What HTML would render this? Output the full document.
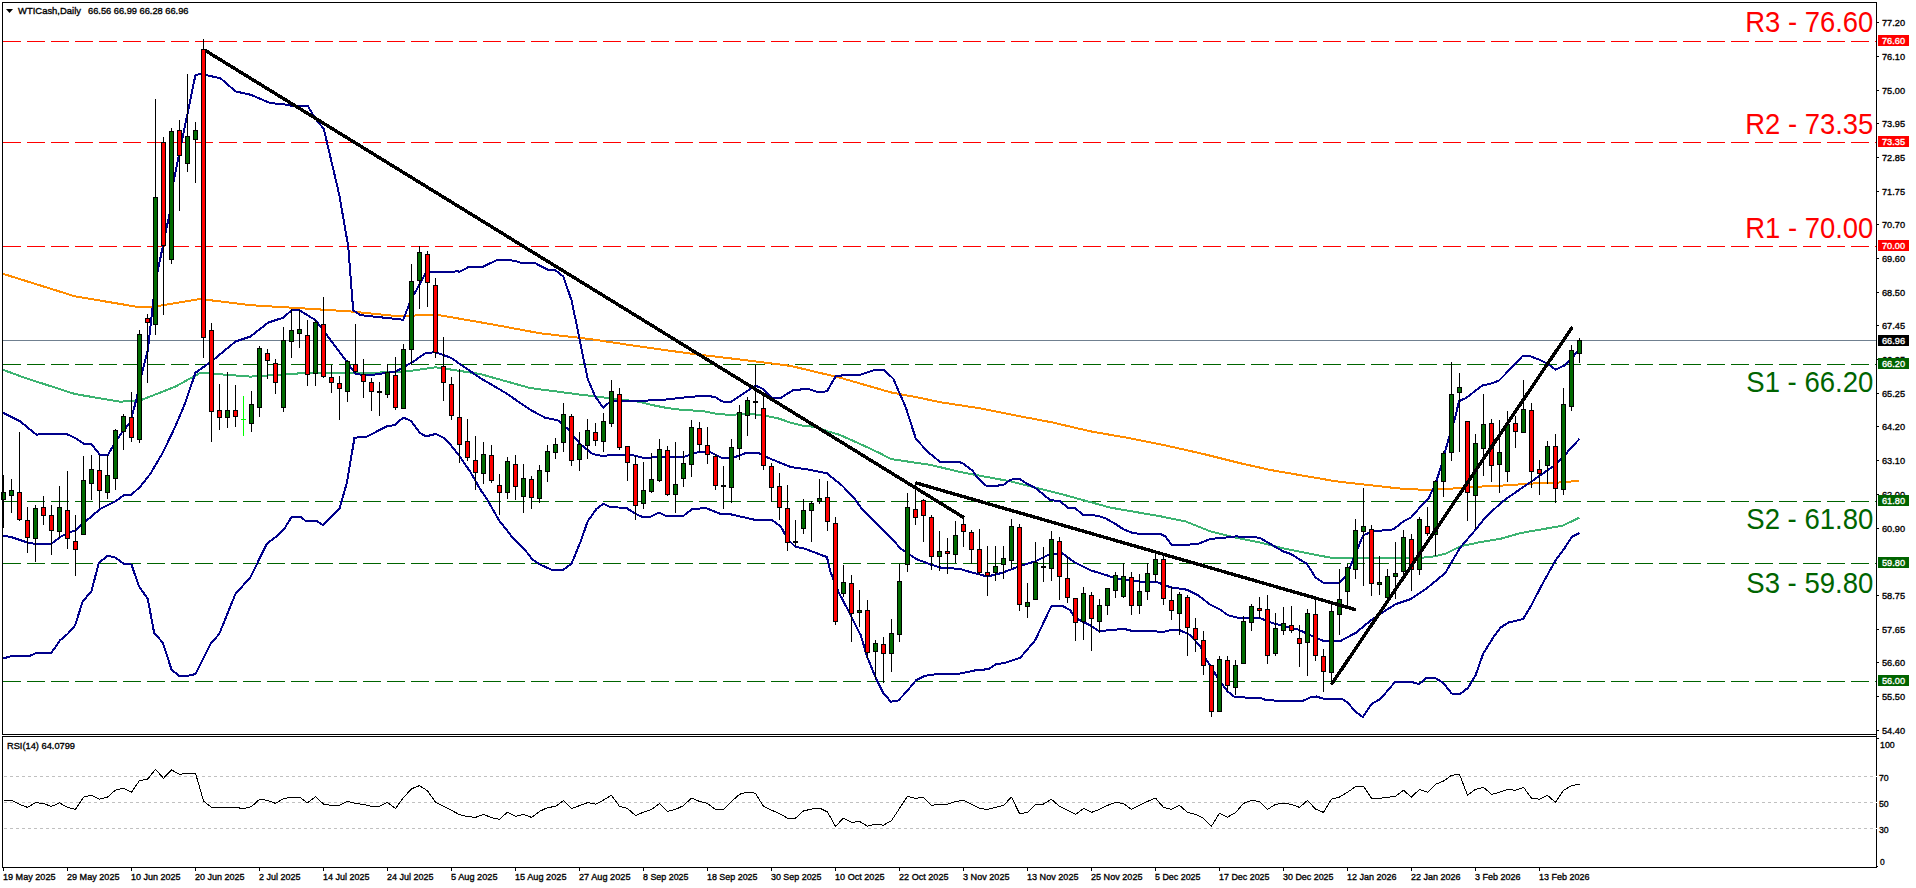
<!DOCTYPE html>
<html><head><meta charset="utf-8"><title>WTICash Daily</title>
<style>html,body{margin:0;padding:0;background:#fff;overflow:hidden}svg{display:block}.s{font-family:"Liberation Sans",sans-serif;font-size:9.8px;fill:#000;stroke:#000;stroke-width:0.35px}.w{font-family:"Liberation Sans",sans-serif;font-size:9.8px;fill:#fff;stroke:#fff;stroke-width:0.35px}.b{font-family:"Liberation Sans",sans-serif;font-size:29.5px}</style></head><body>
<svg width="1916" height="888" viewBox="0 0 1916 888">
<rect width="1916" height="888" fill="#fff"/>
<g shape-rendering="crispEdges">
<line x1="3" y1="340.5" x2="1876" y2="340.5" stroke="#708090" stroke-width="1"/>
<line x1="3" y1="41.5" x2="1876" y2="41.5" stroke="#ff0000" stroke-width="1" stroke-dasharray="18 6"/>
<line x1="3" y1="142.5" x2="1876" y2="142.5" stroke="#ff0000" stroke-width="1" stroke-dasharray="18 6"/>
<line x1="3" y1="246.5" x2="1876" y2="246.5" stroke="#ff0000" stroke-width="1" stroke-dasharray="18 6"/>
<line x1="3" y1="364.5" x2="1876" y2="364.5" stroke="#006400" stroke-width="1" stroke-dasharray="18 6"/>
<line x1="3" y1="501.5" x2="1876" y2="501.5" stroke="#006400" stroke-width="1" stroke-dasharray="18 6"/>
<line x1="3" y1="563.5" x2="1876" y2="563.5" stroke="#006400" stroke-width="1" stroke-dasharray="18 6"/>
<line x1="3" y1="681.5" x2="1876" y2="681.5" stroke="#006400" stroke-width="1" stroke-dasharray="18 6"/>
<line x1="4" y1="776.5" x2="1876" y2="776.5" stroke="#c0c0c0" stroke-width="1" stroke-dasharray="3 3"/>
<line x1="4" y1="802.5" x2="1876" y2="802.5" stroke="#c0c0c0" stroke-width="1" stroke-dasharray="3 3"/>
<line x1="4" y1="828.5" x2="1876" y2="828.5" stroke="#c0c0c0" stroke-width="1" stroke-dasharray="3 3"/>
</g>
<polyline points="3,273.8 75.2,296.4 135.3,306.5 155.3,306.5 200.4,299 250.5,305.2 300.6,308.2 350.7,311.5 400.8,316.5 425.9,314.7 440.0,315.3 490.1,324.0 540.2,333.3 590.3,339.1 640.4,346.6 690.5,353.6 740.6,359.6 790.7,365.9 840.8,377.9 890.9,392.4 920.0,397.9 940,402.2 977.6,407.9 1015.2,415.4 1052.7,422.5 1090.3,431.3 1127.9,437.9 1165.5,445.4 1203.1,453.9 1240.6,463.3 1270.6,470.0 1335.8,481.3 1385.9,487.0 1405.1,489.1 1430.1,489.9 1455.2,488.4 1480.2,486.6 1505.3,485.4 1530.3,483.6 1555.4,482.8 1579.4,480.8" fill="none" stroke="#ff8c00" stroke-width="2" stroke-linejoin="round" shape-rendering="crispEdges"/>
<polyline points="3,369.8 25,377.9 75.2,394.1 120.2,401.7 140.3,400.4 175.4,386.6 200.4,372.8 250.5,376.6 300.6,373.3 350.7,372.8 400.8,372.3 435.9,367.3 480,374 530,388 580,394.6 630,400.6 640,401.9 652.5,405.1 665.1,407.6 677.6,409.4 690.1,410.3 702.6,411.1 715.2,413.6 727.7,414.7 740.2,414.4 752.7,414.2 765.3,415.7 777.8,418.2 790.3,422.6 802.8,425.7 815.4,427 827.9,431.4 840.4,435.1 853,440.8 865.5,446.4 880,453.3 890.8,459 931,465 960,472 1010.1,481.3 1060.2,493.8 1110.3,507.6 1160.4,516.3 1185.5,521.4 1210.5,531.4 1235.6,537.6 1260.6,542.6 1285.7,548.9 1310.7,553.9 1330.7,557.7 1360.8,558.2 1410.9,558.2 1430.1,557.2 1445.1,553.9 1460.2,546.4 1480.2,542.1 1500.2,538.9 1520.3,533.1 1540.3,529.6 1562.9,525.6 1579.4,517.6" fill="none" stroke="#3cb371" stroke-width="2" stroke-linejoin="round" shape-rendering="crispEdges"/>
<polyline points="3.0,412.6 12.5,417.6 20.0,421.3 36.3,434.6 51.4,433.9 66.4,433.9 75.2,438.1 83.9,443.9 91.4,443.9 100.2,455.2 107.7,455.2 115.2,442.6 122.7,431.4 130.3,422.6 136.5,398.8 140.3,380.0 147.8,350.3 155.3,282.7 170.3,210.0 172.8,185.4 195.4,75.2 200.4,73.9 220.4,78.2 235.5,91.4 250.5,94.7 270.5,103.2 283.1,104.0 290.6,105.7 307.6,105.7 315.6,119.0 323.9,129.0 328.2,147.8 339.4,195.4 348.2,246.3 353.2,310.2 360.7,315.2 403.3,319.7 410.8,300.2 425.9,272.6 458.4,271.4 458.8,272.2 468.8,266.9 482.6,266.9 497.6,259.7 515.2,260.7 520.2,262.7 535.2,263.2 547.7,269.7 555.2,270.2 563.2,276.4 571.5,300.2 577.8,330.3 582.8,355.4 587.8,379.1 595.2,396.4 603.2,407.7 610.3,401.4 630.3,401.4 665.4,399.6 687.9,397.1 705.5,395.6 715.5,397.1 721.7,401.4 730.5,402.1 740.5,395.6 755.6,385.6 763.1,388.9 771.8,398.1 780.6,398.1 793.1,390.1 808.2,388.9 816.9,391.9 826.9,391.4 835.7,376.3 848.2,374.6 860.8,374.6 875.8,369.6 883.8,369.6 893.3,378.8 905.9,407.7 915.9,439.0 928.4,452.4 939.7,461.6 958.3,461.6 963.3,463.6 972.3,470.4 978.0,478.3 986.4,485.9 994.9,485.9 1003.3,485.0 1010.6,479.6 1019.6,478.9 1026.4,483.4 1035.4,487.9 1050.2,500.1 1060.2,501.3 1067.7,507.6 1075.2,508.1 1083.2,515.1 1097.8,515.6 1106.5,518.8 1115.3,523.9 1122.8,528.9 1131.6,532.6 1139.1,533.9 1160.4,533.9 1165.4,536.4 1171.7,545.2 1180.4,545.2 1198.0,543.9 1210.5,538.9 1225.5,537.6 1235.6,536.4 1259.3,537.6 1268.1,542.6 1283.1,551.4 1290.7,553.9 1306.9,563.9 1315.7,577.7 1323.2,582.7 1339.5,582.7 1347.0,575.2 1355.8,552.7 1363.3,535.1 1373.3,531.4 1393.4,529.4 1403.4,521.4 1410.9,517.6 1419.7,507.6 1428.4,498.8 1436.0,482.5 1441.4,465.3 1448.9,437.8 1455.2,417.7 1458.9,401.4 1466.4,397.7 1482.7,385.2 1490.2,383.9 1499.0,380.6 1515.3,363.9 1522.8,355.6 1530.3,356.3 1540.3,360.1 1547.8,363.9 1555.4,369.6 1564.1,365.6 1571.6,358.8 1579.4,348.8" fill="none" stroke="#00008b" stroke-width="2" stroke-linejoin="round" shape-rendering="crispEdges"/>
<polyline points="3.0,535.5 12.5,537.5 27.6,542.5 35.1,543.8 51.4,543.8 60.1,537.0 67.6,533.0 75.2,530.5 82.7,523.8 100.2,509.0 115.2,501.5 124.0,495.2 131.5,494.7 140.3,486.5 150.3,473.9 162.8,452.6 175.4,426.3 185.4,402.5 195.4,372.8 212.9,360.3 235.5,341.5 250.5,336.5 268.0,322.7 283.1,317.7 291.8,310.2 299.3,310.2 315.6,320.2 330.7,340.3 345.7,360.3 355.7,374.1 368.2,375.4 395.8,371.6 413.3,361.6 425.9,352.8 435.9,352.3 450.9,357.8 480.0,377.9 505.1,392.6 530.1,409.7 545.1,417.7 557.7,420.2 567.7,428.9 580.2,444.0 592.7,454.0 602.7,456.0 615.3,454.5 630.3,454.5 642.8,457.8 667.9,457.0 685.4,456.5 697.9,452.2 710.5,452.2 721.7,457.8 733.0,457.8 745.5,453.2 758.1,452.7 768.1,457.8 790.6,467.0 808.2,469.5 826.9,473.3 843.2,486.6 855.8,500.3 860.8,507.5 875.8,522.5 890.8,537.6 900.8,548.8 915.9,558.9 930.9,564.6 940.9,567.6 960.0,568.9 972.5,572.7 987.6,576.5 1002.6,572.7 1018.9,566.4 1035.2,561.4 1047.7,555.2 1061.5,552.7 1075.2,562.7 1090.3,570.2 1106.5,575.2 1115.3,578.2 1122.8,579.7 1139.1,581.5 1155.4,581.5 1170.4,587.2 1186.7,589.7 1198.0,595.3 1210.5,604.8 1220.5,609.8 1228.0,615.3 1238.1,617.8 1259.3,617.8 1273.1,623.3 1283.1,625.8 1298.2,629.6 1310.7,635.3 1323.2,640.8 1340.8,640.8 1355.8,632.8 1370.8,620.3 1385.9,610.3 1395.9,604.0 1410.9,599.0 1425.9,589.0 1445.1,573.2 1460.2,547.6 1475.2,530.1 1485.2,517.6 1502.7,501.3 1515.3,492.5 1530.3,482.3 1540.3,475.3 1555.4,464.8 1564.1,456.0 1571.6,447.3 1579.4,439.0" fill="none" stroke="#00008b" stroke-width="2" stroke-linejoin="round" shape-rendering="crispEdges"/>
<polyline points="3.0,658.5 12.5,655.8 30.1,655.8 36.3,652.8 51.4,652.8 60.1,640.2 67.6,634.0 75.2,625.2 82.7,601.4 91.4,591.4 98.9,562.6 107.7,555.8 115.2,557.6 124.0,563.8 131.5,564.6 139.0,586.4 147.8,598.9 154.1,632.7 162.8,642.7 171.6,669.8 179.1,675.8 187.9,675.8 195.4,674.1 210.4,644.0 219.2,634.0 235.5,593.9 250.5,577.1 266.8,543.8 275.6,537.0 284.3,528.8 291.8,516.5 300.6,516.5 305.6,521.0 316.9,521.0 323.1,525.3 339.4,509.0 346.9,482.7 354.5,437.6 365.7,437.1 387.0,426.3 394.5,425.1 403.3,417.6 410.8,420.8 419.6,432.6 425.9,436.4 435.9,433.9 443.4,437.6 450.9,445.1 459.7,456.4 470.9,472.7 480.0,489.0 487.5,500.0 498.8,520.0 512.6,537.6 525.1,550.1 532.6,559.6 540.1,564.6 552.6,570.1 562.7,570.1 571.4,563.9 580.2,542.6 587.7,521.3 596.5,508.8 603.2,503.8 610.3,507.0 626.5,508.0 635.3,513.8 642.8,517.0 650.3,517.0 659.1,512.5 666.6,516.3 682.9,516.3 691.7,509.3 705.5,508.0 721.7,514.3 730.5,514.3 755.6,520.0 771.8,520.0 780.6,526.3 788.1,539.6 795.6,547.1 803.1,548.1 826.9,557.1 830.7,572.6 838.2,591.4 850.7,615.2 860.8,635.3 867.0,656.6 875.8,677.9 883.3,692.9 890.8,701.7 898.3,700.4 905.9,692.4 915.9,680.4 924.6,675.9 940.9,673.6 960.0,673.6 975.0,670.4 988.8,669.1 996.3,664.1 1005.1,662.9 1020.1,657.9 1035.2,640.3 1051.4,606.0 1062.7,606.0 1070.2,610.3 1075.2,617.8 1090.3,625.3 1099.0,631.1 1115.3,629.8 1122.8,628.6 1132.8,631.1 1152.9,631.1 1162.9,632.1 1171.7,629.8 1179.2,629.8 1190.5,635.3 1200.5,646.6 1205.1,657.7 1217.6,677.7 1227.6,691.5 1235.1,697.3 1260.2,697.8 1266.4,700.3 1291.5,701.0 1302.7,701.0 1310.3,697.3 1316.5,696.5 1322.8,698.5 1341.6,698.5 1347.8,702.8 1355.4,711.6 1362.9,717.1 1371.6,704.0 1380.4,699.0 1395.4,681.5 1411.7,682.0 1419.2,684.0 1426.7,677.7 1435.5,678.2 1443.0,682.7 1451.8,693.5 1460.6,693.5 1468.1,687.8 1475.6,675.2 1483.1,653.9 1493.1,637.7 1500.6,627.6 1508.2,622.6 1523.2,618.9 1530.7,606.3 1543.2,582.5 1555.8,560.0 1564.1,548.9 1571.6,537.1 1579.4,533.1" fill="none" stroke="#00008b" stroke-width="2" stroke-linejoin="round" shape-rendering="crispEdges"/>
<g shape-rendering="crispEdges">
<rect x="3" y="475" width="1" height="53" fill="#000"/>
<rect x="1" y="492" width="5" height="8" fill="#000"/>
<rect x="2" y="493" width="3" height="6" fill="#006b00"/>
<rect x="11" y="479" width="1" height="34" fill="#000"/>
<rect x="9" y="490" width="5" height="6" fill="#000"/>
<rect x="10" y="491" width="3" height="4" fill="#006b00"/>
<rect x="19" y="432" width="1" height="89" fill="#000"/>
<rect x="17" y="492" width="5" height="28" fill="#000"/>
<rect x="18" y="493" width="3" height="26" fill="#ff0000"/>
<rect x="27" y="507" width="1" height="46" fill="#000"/>
<rect x="25" y="520" width="5" height="18" fill="#000"/>
<rect x="26" y="521" width="3" height="16" fill="#ff0000"/>
<rect x="35" y="505" width="1" height="57" fill="#000"/>
<rect x="33" y="508" width="5" height="31" fill="#000"/>
<rect x="34" y="509" width="3" height="29" fill="#006b00"/>
<rect x="43" y="496" width="1" height="29" fill="#000"/>
<rect x="41" y="507" width="5" height="9" fill="#000"/>
<rect x="42" y="508" width="3" height="7" fill="#ff0000"/>
<rect x="51" y="505" width="1" height="50" fill="#000"/>
<rect x="49" y="515" width="5" height="16" fill="#000"/>
<rect x="50" y="516" width="3" height="14" fill="#ff0000"/>
<rect x="59" y="486" width="1" height="52" fill="#000"/>
<rect x="57" y="507" width="5" height="25" fill="#000"/>
<rect x="58" y="508" width="3" height="23" fill="#006b00"/>
<rect x="67" y="471" width="1" height="78" fill="#000"/>
<rect x="65" y="510" width="5" height="29" fill="#000"/>
<rect x="66" y="511" width="3" height="27" fill="#ff0000"/>
<rect x="75" y="515" width="1" height="61" fill="#000"/>
<rect x="73" y="541" width="5" height="9" fill="#000"/>
<rect x="74" y="542" width="3" height="7" fill="#ff0000"/>
<rect x="83" y="456" width="1" height="79" fill="#000"/>
<rect x="81" y="480" width="5" height="55" fill="#000"/>
<rect x="82" y="481" width="3" height="53" fill="#006b00"/>
<rect x="91" y="455" width="1" height="45" fill="#000"/>
<rect x="89" y="469" width="5" height="15" fill="#000"/>
<rect x="90" y="470" width="3" height="13" fill="#006b00"/>
<rect x="99" y="455" width="1" height="53" fill="#000"/>
<rect x="97" y="470" width="5" height="21" fill="#000"/>
<rect x="98" y="471" width="3" height="19" fill="#ff0000"/>
<rect x="107" y="455" width="1" height="44" fill="#000"/>
<rect x="105" y="475" width="5" height="18" fill="#000"/>
<rect x="106" y="476" width="3" height="16" fill="#006b00"/>
<rect x="115" y="429" width="1" height="61" fill="#000"/>
<rect x="113" y="430" width="5" height="49" fill="#000"/>
<rect x="114" y="431" width="3" height="47" fill="#006b00"/>
<rect x="123" y="414" width="1" height="36" fill="#000"/>
<rect x="121" y="416" width="5" height="16" fill="#000"/>
<rect x="122" y="417" width="3" height="14" fill="#006b00"/>
<rect x="131" y="392" width="1" height="50" fill="#000"/>
<rect x="129" y="417" width="5" height="21" fill="#000"/>
<rect x="130" y="418" width="3" height="19" fill="#ff0000"/>
<rect x="139" y="330" width="1" height="113" fill="#000"/>
<rect x="137" y="334" width="5" height="106" fill="#000"/>
<rect x="138" y="335" width="3" height="104" fill="#006b00"/>
<rect x="147" y="314" width="1" height="69" fill="#000"/>
<rect x="145" y="318" width="5" height="5" fill="#000"/>
<rect x="146" y="319" width="3" height="3" fill="#ff0000"/>
<rect x="155" y="99" width="1" height="236" fill="#000"/>
<rect x="153" y="197" width="5" height="128" fill="#000"/>
<rect x="154" y="198" width="3" height="126" fill="#006b00"/>
<rect x="163" y="137" width="1" height="178" fill="#000"/>
<rect x="161" y="142" width="5" height="104" fill="#000"/>
<rect x="162" y="143" width="3" height="102" fill="#ff0000"/>
<rect x="171" y="128" width="1" height="136" fill="#000"/>
<rect x="169" y="131" width="5" height="129" fill="#000"/>
<rect x="170" y="132" width="3" height="127" fill="#006b00"/>
<rect x="179" y="120" width="1" height="91" fill="#000"/>
<rect x="177" y="130" width="5" height="26" fill="#000"/>
<rect x="178" y="131" width="3" height="24" fill="#ff0000"/>
<rect x="187" y="74" width="1" height="98" fill="#000"/>
<rect x="185" y="136" width="5" height="28" fill="#000"/>
<rect x="186" y="137" width="3" height="26" fill="#006b00"/>
<rect x="195" y="122" width="1" height="61" fill="#000"/>
<rect x="193" y="130" width="5" height="10" fill="#000"/>
<rect x="194" y="131" width="3" height="8" fill="#006b00"/>
<rect x="203" y="39" width="1" height="319" fill="#000"/>
<rect x="201" y="49" width="5" height="289" fill="#000"/>
<rect x="202" y="50" width="3" height="287" fill="#ff0000"/>
<rect x="211" y="323" width="1" height="119" fill="#000"/>
<rect x="209" y="330" width="5" height="82" fill="#000"/>
<rect x="210" y="331" width="3" height="80" fill="#ff0000"/>
<rect x="219" y="384" width="1" height="46" fill="#000"/>
<rect x="217" y="410" width="5" height="8" fill="#000"/>
<rect x="218" y="411" width="3" height="6" fill="#ff0000"/>
<rect x="227" y="372" width="1" height="56" fill="#000"/>
<rect x="225" y="410" width="5" height="8" fill="#000"/>
<rect x="226" y="411" width="3" height="6" fill="#006b00"/>
<rect x="235" y="385" width="1" height="42" fill="#000"/>
<rect x="233" y="410" width="5" height="7" fill="#000"/>
<rect x="234" y="411" width="3" height="5" fill="#ff0000"/>
<rect x="243" y="396" width="1" height="40" fill="#00ff00"/>
<rect x="241" y="419" width="5" height="1" fill="#00ff00"/>
<rect x="251" y="391" width="1" height="41" fill="#000"/>
<rect x="249" y="404" width="5" height="20" fill="#000"/>
<rect x="250" y="405" width="3" height="18" fill="#006b00"/>
<rect x="259" y="346" width="1" height="71" fill="#000"/>
<rect x="257" y="348" width="5" height="60" fill="#000"/>
<rect x="258" y="349" width="3" height="58" fill="#006b00"/>
<rect x="267" y="349" width="1" height="30" fill="#000"/>
<rect x="265" y="353" width="5" height="8" fill="#000"/>
<rect x="266" y="354" width="3" height="6" fill="#ff0000"/>
<rect x="275" y="359" width="1" height="35" fill="#000"/>
<rect x="273" y="363" width="5" height="20" fill="#000"/>
<rect x="274" y="364" width="3" height="18" fill="#ff0000"/>
<rect x="283" y="327" width="1" height="85" fill="#000"/>
<rect x="281" y="340" width="5" height="68" fill="#000"/>
<rect x="282" y="341" width="3" height="66" fill="#006b00"/>
<rect x="291" y="309" width="1" height="49" fill="#000"/>
<rect x="289" y="330" width="5" height="12" fill="#000"/>
<rect x="290" y="331" width="3" height="10" fill="#006b00"/>
<rect x="299" y="310" width="1" height="38" fill="#000"/>
<rect x="297" y="329" width="5" height="5" fill="#000"/>
<rect x="298" y="330" width="3" height="3" fill="#006b00"/>
<rect x="307" y="320" width="1" height="66" fill="#000"/>
<rect x="305" y="335" width="5" height="40" fill="#000"/>
<rect x="306" y="336" width="3" height="38" fill="#ff0000"/>
<rect x="315" y="320" width="1" height="66" fill="#000"/>
<rect x="313" y="322" width="5" height="52" fill="#000"/>
<rect x="314" y="323" width="3" height="50" fill="#006b00"/>
<rect x="323" y="297" width="1" height="81" fill="#000"/>
<rect x="321" y="324" width="5" height="53" fill="#000"/>
<rect x="322" y="325" width="3" height="51" fill="#ff0000"/>
<rect x="331" y="365" width="1" height="28" fill="#000"/>
<rect x="329" y="377" width="5" height="6" fill="#000"/>
<rect x="330" y="378" width="3" height="4" fill="#ff0000"/>
<rect x="339" y="376" width="1" height="44" fill="#000"/>
<rect x="337" y="383" width="5" height="6" fill="#000"/>
<rect x="338" y="384" width="3" height="4" fill="#ff0000"/>
<rect x="347" y="360" width="1" height="42" fill="#000"/>
<rect x="345" y="361" width="5" height="31" fill="#000"/>
<rect x="346" y="362" width="3" height="29" fill="#006b00"/>
<rect x="355" y="324" width="1" height="49" fill="#000"/>
<rect x="353" y="364" width="5" height="8" fill="#000"/>
<rect x="354" y="365" width="3" height="6" fill="#ff0000"/>
<rect x="363" y="359" width="1" height="39" fill="#000"/>
<rect x="361" y="374" width="5" height="8" fill="#000"/>
<rect x="362" y="375" width="3" height="6" fill="#ff0000"/>
<rect x="371" y="378" width="1" height="33" fill="#000"/>
<rect x="369" y="382" width="5" height="10" fill="#000"/>
<rect x="370" y="383" width="3" height="8" fill="#ff0000"/>
<rect x="379" y="382" width="1" height="34" fill="#000"/>
<rect x="377" y="391" width="5" height="2" fill="#000"/>
<rect x="387" y="364" width="1" height="34" fill="#000"/>
<rect x="385" y="372" width="5" height="23" fill="#000"/>
<rect x="386" y="373" width="3" height="21" fill="#006b00"/>
<rect x="395" y="357" width="1" height="53" fill="#000"/>
<rect x="393" y="375" width="5" height="33" fill="#000"/>
<rect x="394" y="376" width="3" height="31" fill="#ff0000"/>
<rect x="403" y="344" width="1" height="65" fill="#000"/>
<rect x="401" y="349" width="5" height="60" fill="#000"/>
<rect x="402" y="350" width="3" height="58" fill="#006b00"/>
<rect x="411" y="264" width="1" height="101" fill="#000"/>
<rect x="409" y="281" width="5" height="69" fill="#000"/>
<rect x="410" y="282" width="3" height="67" fill="#006b00"/>
<rect x="419" y="246" width="1" height="63" fill="#000"/>
<rect x="417" y="252" width="5" height="29" fill="#000"/>
<rect x="418" y="253" width="3" height="27" fill="#006b00"/>
<rect x="427" y="251" width="1" height="56" fill="#000"/>
<rect x="425" y="254" width="5" height="29" fill="#000"/>
<rect x="426" y="255" width="3" height="27" fill="#ff0000"/>
<rect x="435" y="278" width="1" height="80" fill="#000"/>
<rect x="433" y="285" width="5" height="68" fill="#000"/>
<rect x="434" y="286" width="3" height="66" fill="#ff0000"/>
<rect x="443" y="337" width="1" height="64" fill="#000"/>
<rect x="441" y="366" width="5" height="17" fill="#000"/>
<rect x="442" y="367" width="3" height="15" fill="#ff0000"/>
<rect x="451" y="377" width="1" height="43" fill="#000"/>
<rect x="449" y="384" width="5" height="32" fill="#000"/>
<rect x="450" y="385" width="3" height="30" fill="#ff0000"/>
<rect x="459" y="369" width="1" height="94" fill="#000"/>
<rect x="457" y="417" width="5" height="28" fill="#000"/>
<rect x="458" y="418" width="3" height="26" fill="#ff0000"/>
<rect x="467" y="419" width="1" height="42" fill="#000"/>
<rect x="465" y="441" width="5" height="17" fill="#000"/>
<rect x="466" y="442" width="3" height="15" fill="#ff0000"/>
<rect x="475" y="436" width="1" height="54" fill="#000"/>
<rect x="473" y="460" width="5" height="13" fill="#000"/>
<rect x="474" y="461" width="3" height="11" fill="#ff0000"/>
<rect x="483" y="442" width="1" height="42" fill="#000"/>
<rect x="481" y="454" width="5" height="20" fill="#000"/>
<rect x="482" y="455" width="3" height="18" fill="#006b00"/>
<rect x="491" y="445" width="1" height="38" fill="#000"/>
<rect x="489" y="455" width="5" height="26" fill="#000"/>
<rect x="490" y="456" width="3" height="24" fill="#ff0000"/>
<rect x="499" y="474" width="1" height="41" fill="#000"/>
<rect x="497" y="485" width="5" height="8" fill="#000"/>
<rect x="498" y="486" width="3" height="6" fill="#ff0000"/>
<rect x="507" y="457" width="1" height="42" fill="#000"/>
<rect x="505" y="461" width="5" height="32" fill="#000"/>
<rect x="506" y="462" width="3" height="30" fill="#006b00"/>
<rect x="515" y="455" width="1" height="45" fill="#000"/>
<rect x="513" y="464" width="5" height="23" fill="#000"/>
<rect x="514" y="465" width="3" height="21" fill="#ff0000"/>
<rect x="523" y="464" width="1" height="49" fill="#000"/>
<rect x="521" y="478" width="5" height="19" fill="#000"/>
<rect x="522" y="479" width="3" height="17" fill="#006b00"/>
<rect x="531" y="476" width="1" height="33" fill="#000"/>
<rect x="529" y="479" width="5" height="19" fill="#000"/>
<rect x="530" y="480" width="3" height="17" fill="#ff0000"/>
<rect x="539" y="465" width="1" height="38" fill="#000"/>
<rect x="537" y="470" width="5" height="29" fill="#000"/>
<rect x="538" y="471" width="3" height="27" fill="#006b00"/>
<rect x="547" y="445" width="1" height="37" fill="#000"/>
<rect x="545" y="451" width="5" height="21" fill="#000"/>
<rect x="546" y="452" width="3" height="19" fill="#006b00"/>
<rect x="555" y="438" width="1" height="21" fill="#000"/>
<rect x="553" y="444" width="5" height="9" fill="#000"/>
<rect x="554" y="445" width="3" height="7" fill="#006b00"/>
<rect x="563" y="403" width="1" height="49" fill="#000"/>
<rect x="561" y="414" width="5" height="29" fill="#000"/>
<rect x="562" y="415" width="3" height="27" fill="#006b00"/>
<rect x="571" y="414" width="1" height="52" fill="#000"/>
<rect x="569" y="416" width="5" height="45" fill="#000"/>
<rect x="570" y="417" width="3" height="43" fill="#ff0000"/>
<rect x="579" y="432" width="1" height="39" fill="#000"/>
<rect x="577" y="444" width="5" height="16" fill="#000"/>
<rect x="578" y="445" width="3" height="14" fill="#006b00"/>
<rect x="587" y="419" width="1" height="40" fill="#000"/>
<rect x="585" y="430" width="5" height="16" fill="#000"/>
<rect x="586" y="431" width="3" height="14" fill="#006b00"/>
<rect x="595" y="423" width="1" height="23" fill="#000"/>
<rect x="593" y="432" width="5" height="9" fill="#000"/>
<rect x="594" y="433" width="3" height="7" fill="#ff0000"/>
<rect x="603" y="413" width="1" height="39" fill="#000"/>
<rect x="601" y="421" width="5" height="21" fill="#000"/>
<rect x="602" y="422" width="3" height="19" fill="#006b00"/>
<rect x="611" y="380" width="1" height="47" fill="#000"/>
<rect x="609" y="391" width="5" height="33" fill="#000"/>
<rect x="610" y="392" width="3" height="31" fill="#006b00"/>
<rect x="619" y="388" width="1" height="62" fill="#000"/>
<rect x="617" y="394" width="5" height="54" fill="#000"/>
<rect x="618" y="395" width="3" height="52" fill="#ff0000"/>
<rect x="627" y="446" width="1" height="35" fill="#000"/>
<rect x="625" y="446" width="5" height="17" fill="#000"/>
<rect x="626" y="447" width="3" height="15" fill="#ff0000"/>
<rect x="635" y="456" width="1" height="64" fill="#000"/>
<rect x="633" y="464" width="5" height="42" fill="#000"/>
<rect x="634" y="465" width="3" height="40" fill="#ff0000"/>
<rect x="643" y="462" width="1" height="47" fill="#000"/>
<rect x="641" y="490" width="5" height="14" fill="#000"/>
<rect x="642" y="491" width="3" height="12" fill="#006b00"/>
<rect x="651" y="453" width="1" height="40" fill="#000"/>
<rect x="649" y="479" width="5" height="13" fill="#000"/>
<rect x="650" y="480" width="3" height="11" fill="#006b00"/>
<rect x="659" y="439" width="1" height="43" fill="#000"/>
<rect x="657" y="449" width="5" height="32" fill="#000"/>
<rect x="658" y="450" width="3" height="30" fill="#006b00"/>
<rect x="667" y="446" width="1" height="50" fill="#000"/>
<rect x="665" y="450" width="5" height="45" fill="#000"/>
<rect x="666" y="451" width="3" height="43" fill="#ff0000"/>
<rect x="675" y="442" width="1" height="71" fill="#000"/>
<rect x="673" y="484" width="5" height="11" fill="#000"/>
<rect x="674" y="485" width="3" height="9" fill="#006b00"/>
<rect x="683" y="451" width="1" height="36" fill="#000"/>
<rect x="681" y="463" width="5" height="16" fill="#000"/>
<rect x="682" y="464" width="3" height="14" fill="#006b00"/>
<rect x="691" y="420" width="1" height="57" fill="#000"/>
<rect x="689" y="427" width="5" height="38" fill="#000"/>
<rect x="690" y="428" width="3" height="36" fill="#006b00"/>
<rect x="699" y="422" width="1" height="30" fill="#000"/>
<rect x="697" y="428" width="5" height="17" fill="#000"/>
<rect x="698" y="429" width="3" height="15" fill="#ff0000"/>
<rect x="707" y="427" width="1" height="37" fill="#000"/>
<rect x="705" y="445" width="5" height="10" fill="#000"/>
<rect x="706" y="446" width="3" height="8" fill="#ff0000"/>
<rect x="715" y="454" width="1" height="36" fill="#000"/>
<rect x="713" y="456" width="5" height="30" fill="#000"/>
<rect x="714" y="457" width="3" height="28" fill="#ff0000"/>
<rect x="723" y="466" width="1" height="43" fill="#000"/>
<rect x="721" y="485" width="5" height="2" fill="#000"/>
<rect x="731" y="439" width="1" height="64" fill="#000"/>
<rect x="729" y="447" width="5" height="41" fill="#000"/>
<rect x="730" y="448" width="3" height="39" fill="#006b00"/>
<rect x="739" y="405" width="1" height="55" fill="#000"/>
<rect x="737" y="412" width="5" height="37" fill="#000"/>
<rect x="738" y="413" width="3" height="35" fill="#006b00"/>
<rect x="747" y="397" width="1" height="39" fill="#000"/>
<rect x="745" y="400" width="5" height="16" fill="#000"/>
<rect x="746" y="401" width="3" height="14" fill="#006b00"/>
<rect x="755" y="365" width="1" height="54" fill="#000"/>
<rect x="753" y="401" width="5" height="2" fill="#000"/>
<rect x="763" y="395" width="1" height="75" fill="#000"/>
<rect x="761" y="408" width="5" height="58" fill="#000"/>
<rect x="762" y="409" width="3" height="56" fill="#ff0000"/>
<rect x="771" y="463" width="1" height="39" fill="#000"/>
<rect x="769" y="466" width="5" height="22" fill="#000"/>
<rect x="770" y="467" width="3" height="20" fill="#ff0000"/>
<rect x="779" y="473" width="1" height="47" fill="#000"/>
<rect x="777" y="486" width="5" height="22" fill="#000"/>
<rect x="778" y="487" width="3" height="20" fill="#ff0000"/>
<rect x="787" y="485" width="1" height="66" fill="#000"/>
<rect x="785" y="508" width="5" height="35" fill="#000"/>
<rect x="786" y="509" width="3" height="33" fill="#ff0000"/>
<rect x="795" y="520" width="1" height="26" fill="#000"/>
<rect x="793" y="541" width="5" height="2" fill="#000"/>
<rect x="803" y="499" width="1" height="35" fill="#000"/>
<rect x="801" y="510" width="5" height="19" fill="#000"/>
<rect x="802" y="511" width="3" height="17" fill="#006b00"/>
<rect x="811" y="501" width="1" height="41" fill="#000"/>
<rect x="809" y="503" width="5" height="8" fill="#000"/>
<rect x="810" y="504" width="3" height="6" fill="#006b00"/>
<rect x="819" y="479" width="1" height="25" fill="#000"/>
<rect x="817" y="498" width="5" height="4" fill="#000"/>
<rect x="818" y="499" width="3" height="2" fill="#006b00"/>
<rect x="827" y="481" width="1" height="50" fill="#000"/>
<rect x="825" y="497" width="5" height="25" fill="#000"/>
<rect x="826" y="498" width="3" height="23" fill="#ff0000"/>
<rect x="835" y="517" width="1" height="108" fill="#000"/>
<rect x="833" y="523" width="5" height="99" fill="#000"/>
<rect x="834" y="524" width="3" height="97" fill="#ff0000"/>
<rect x="843" y="565" width="1" height="32" fill="#000"/>
<rect x="841" y="582" width="5" height="12" fill="#000"/>
<rect x="842" y="583" width="3" height="10" fill="#006b00"/>
<rect x="851" y="575" width="1" height="67" fill="#000"/>
<rect x="849" y="583" width="5" height="31" fill="#000"/>
<rect x="850" y="584" width="3" height="29" fill="#ff0000"/>
<rect x="859" y="590" width="1" height="37" fill="#000"/>
<rect x="857" y="610" width="5" height="3" fill="#000"/>
<rect x="858" y="611" width="3" height="1" fill="#006b00"/>
<rect x="867" y="600" width="1" height="59" fill="#000"/>
<rect x="865" y="610" width="5" height="43" fill="#000"/>
<rect x="866" y="611" width="3" height="41" fill="#ff0000"/>
<rect x="875" y="640" width="1" height="39" fill="#000"/>
<rect x="873" y="643" width="5" height="9" fill="#000"/>
<rect x="874" y="644" width="3" height="7" fill="#006b00"/>
<rect x="883" y="637" width="1" height="46" fill="#000"/>
<rect x="881" y="644" width="5" height="10" fill="#000"/>
<rect x="882" y="645" width="3" height="8" fill="#ff0000"/>
<rect x="891" y="619" width="1" height="53" fill="#000"/>
<rect x="889" y="633" width="5" height="21" fill="#000"/>
<rect x="890" y="634" width="3" height="19" fill="#006b00"/>
<rect x="899" y="564" width="1" height="78" fill="#000"/>
<rect x="897" y="581" width="5" height="54" fill="#000"/>
<rect x="898" y="582" width="3" height="52" fill="#006b00"/>
<rect x="907" y="493" width="1" height="79" fill="#000"/>
<rect x="905" y="507" width="5" height="58" fill="#000"/>
<rect x="906" y="508" width="3" height="56" fill="#006b00"/>
<rect x="915" y="482" width="1" height="43" fill="#000"/>
<rect x="913" y="509" width="5" height="9" fill="#000"/>
<rect x="914" y="510" width="3" height="7" fill="#ff0000"/>
<rect x="923" y="499" width="1" height="43" fill="#000"/>
<rect x="921" y="500" width="5" height="16" fill="#000"/>
<rect x="922" y="501" width="3" height="14" fill="#ff0000"/>
<rect x="931" y="515" width="1" height="55" fill="#000"/>
<rect x="929" y="517" width="5" height="40" fill="#000"/>
<rect x="930" y="518" width="3" height="38" fill="#ff0000"/>
<rect x="939" y="531" width="1" height="40" fill="#000"/>
<rect x="937" y="551" width="5" height="6" fill="#000"/>
<rect x="938" y="552" width="3" height="4" fill="#006b00"/>
<rect x="947" y="538" width="1" height="36" fill="#000"/>
<rect x="945" y="551" width="5" height="3" fill="#000"/>
<rect x="946" y="552" width="3" height="1" fill="#ff0000"/>
<rect x="955" y="521" width="1" height="42" fill="#000"/>
<rect x="953" y="535" width="5" height="20" fill="#000"/>
<rect x="954" y="536" width="3" height="18" fill="#006b00"/>
<rect x="963" y="517" width="1" height="30" fill="#000"/>
<rect x="961" y="524" width="5" height="8" fill="#000"/>
<rect x="962" y="525" width="3" height="6" fill="#ff0000"/>
<rect x="971" y="530" width="1" height="34" fill="#000"/>
<rect x="969" y="532" width="5" height="18" fill="#000"/>
<rect x="970" y="533" width="3" height="16" fill="#ff0000"/>
<rect x="979" y="529" width="1" height="46" fill="#000"/>
<rect x="977" y="549" width="5" height="24" fill="#000"/>
<rect x="978" y="550" width="3" height="22" fill="#ff0000"/>
<rect x="987" y="546" width="1" height="50" fill="#000"/>
<rect x="985" y="572" width="5" height="4" fill="#000"/>
<rect x="986" y="573" width="3" height="2" fill="#ff0000"/>
<rect x="995" y="546" width="1" height="35" fill="#000"/>
<rect x="993" y="566" width="5" height="7" fill="#000"/>
<rect x="994" y="567" width="3" height="5" fill="#006b00"/>
<rect x="1003" y="546" width="1" height="33" fill="#000"/>
<rect x="1001" y="558" width="5" height="7" fill="#000"/>
<rect x="1002" y="559" width="3" height="5" fill="#006b00"/>
<rect x="1011" y="519" width="1" height="50" fill="#000"/>
<rect x="1009" y="526" width="5" height="35" fill="#000"/>
<rect x="1010" y="527" width="3" height="33" fill="#006b00"/>
<rect x="1019" y="524" width="1" height="87" fill="#000"/>
<rect x="1017" y="527" width="5" height="78" fill="#000"/>
<rect x="1018" y="528" width="3" height="76" fill="#ff0000"/>
<rect x="1027" y="583" width="1" height="35" fill="#000"/>
<rect x="1025" y="602" width="5" height="5" fill="#000"/>
<rect x="1026" y="603" width="3" height="3" fill="#006b00"/>
<rect x="1035" y="542" width="1" height="58" fill="#000"/>
<rect x="1033" y="562" width="5" height="38" fill="#000"/>
<rect x="1034" y="563" width="3" height="36" fill="#006b00"/>
<rect x="1043" y="547" width="1" height="35" fill="#000"/>
<rect x="1041" y="566" width="5" height="2" fill="#000"/>
<rect x="1051" y="531" width="1" height="50" fill="#000"/>
<rect x="1049" y="539" width="5" height="30" fill="#000"/>
<rect x="1050" y="540" width="3" height="28" fill="#006b00"/>
<rect x="1059" y="537" width="1" height="63" fill="#000"/>
<rect x="1057" y="541" width="5" height="36" fill="#000"/>
<rect x="1058" y="542" width="3" height="34" fill="#ff0000"/>
<rect x="1067" y="556" width="1" height="47" fill="#000"/>
<rect x="1065" y="578" width="5" height="20" fill="#000"/>
<rect x="1066" y="579" width="3" height="18" fill="#ff0000"/>
<rect x="1075" y="598" width="1" height="43" fill="#000"/>
<rect x="1073" y="598" width="5" height="25" fill="#000"/>
<rect x="1074" y="599" width="3" height="23" fill="#ff0000"/>
<rect x="1083" y="587" width="1" height="53" fill="#000"/>
<rect x="1081" y="593" width="5" height="29" fill="#000"/>
<rect x="1082" y="594" width="3" height="27" fill="#006b00"/>
<rect x="1091" y="592" width="1" height="59" fill="#000"/>
<rect x="1089" y="595" width="5" height="24" fill="#000"/>
<rect x="1090" y="596" width="3" height="22" fill="#ff0000"/>
<rect x="1099" y="599" width="1" height="34" fill="#000"/>
<rect x="1097" y="605" width="5" height="17" fill="#000"/>
<rect x="1098" y="606" width="3" height="15" fill="#006b00"/>
<rect x="1107" y="588" width="1" height="27" fill="#000"/>
<rect x="1105" y="588" width="5" height="18" fill="#000"/>
<rect x="1106" y="589" width="3" height="16" fill="#006b00"/>
<rect x="1115" y="572" width="1" height="26" fill="#000"/>
<rect x="1113" y="575" width="5" height="16" fill="#000"/>
<rect x="1114" y="576" width="3" height="14" fill="#006b00"/>
<rect x="1123" y="563" width="1" height="35" fill="#000"/>
<rect x="1121" y="576" width="5" height="21" fill="#000"/>
<rect x="1122" y="577" width="3" height="19" fill="#006b00"/>
<rect x="1131" y="572" width="1" height="43" fill="#000"/>
<rect x="1129" y="577" width="5" height="29" fill="#000"/>
<rect x="1130" y="578" width="3" height="27" fill="#ff0000"/>
<rect x="1139" y="574" width="1" height="40" fill="#000"/>
<rect x="1137" y="591" width="5" height="15" fill="#000"/>
<rect x="1138" y="592" width="3" height="13" fill="#006b00"/>
<rect x="1147" y="563" width="1" height="37" fill="#000"/>
<rect x="1145" y="573" width="5" height="19" fill="#000"/>
<rect x="1146" y="574" width="3" height="17" fill="#006b00"/>
<rect x="1155" y="552" width="1" height="30" fill="#000"/>
<rect x="1153" y="559" width="5" height="16" fill="#000"/>
<rect x="1154" y="560" width="3" height="14" fill="#006b00"/>
<rect x="1163" y="555" width="1" height="50" fill="#000"/>
<rect x="1161" y="559" width="5" height="40" fill="#000"/>
<rect x="1162" y="560" width="3" height="38" fill="#ff0000"/>
<rect x="1171" y="587" width="1" height="33" fill="#000"/>
<rect x="1169" y="600" width="5" height="11" fill="#000"/>
<rect x="1170" y="601" width="3" height="9" fill="#ff0000"/>
<rect x="1179" y="592" width="1" height="43" fill="#000"/>
<rect x="1177" y="594" width="5" height="20" fill="#000"/>
<rect x="1178" y="595" width="3" height="18" fill="#006b00"/>
<rect x="1187" y="595" width="1" height="61" fill="#000"/>
<rect x="1185" y="597" width="5" height="31" fill="#000"/>
<rect x="1186" y="598" width="3" height="29" fill="#ff0000"/>
<rect x="1195" y="618" width="1" height="34" fill="#000"/>
<rect x="1193" y="628" width="5" height="12" fill="#000"/>
<rect x="1194" y="629" width="3" height="10" fill="#ff0000"/>
<rect x="1203" y="631" width="1" height="44" fill="#000"/>
<rect x="1201" y="640" width="5" height="26" fill="#000"/>
<rect x="1202" y="641" width="3" height="24" fill="#ff0000"/>
<rect x="1211" y="665" width="1" height="52" fill="#000"/>
<rect x="1209" y="665" width="5" height="47" fill="#000"/>
<rect x="1210" y="666" width="3" height="45" fill="#ff0000"/>
<rect x="1219" y="656" width="1" height="56" fill="#000"/>
<rect x="1217" y="659" width="5" height="53" fill="#000"/>
<rect x="1218" y="660" width="3" height="51" fill="#006b00"/>
<rect x="1227" y="656" width="1" height="35" fill="#000"/>
<rect x="1225" y="660" width="5" height="26" fill="#000"/>
<rect x="1226" y="661" width="3" height="24" fill="#ff0000"/>
<rect x="1235" y="660" width="1" height="35" fill="#000"/>
<rect x="1233" y="665" width="5" height="23" fill="#000"/>
<rect x="1234" y="666" width="3" height="21" fill="#006b00"/>
<rect x="1243" y="616" width="1" height="48" fill="#000"/>
<rect x="1241" y="621" width="5" height="43" fill="#000"/>
<rect x="1242" y="622" width="3" height="41" fill="#006b00"/>
<rect x="1251" y="604" width="1" height="27" fill="#000"/>
<rect x="1249" y="606" width="5" height="17" fill="#000"/>
<rect x="1250" y="607" width="3" height="15" fill="#006b00"/>
<rect x="1259" y="597" width="1" height="21" fill="#000"/>
<rect x="1257" y="608" width="5" height="3" fill="#000"/>
<rect x="1258" y="609" width="3" height="1" fill="#ff0000"/>
<rect x="1267" y="595" width="1" height="69" fill="#000"/>
<rect x="1265" y="609" width="5" height="47" fill="#000"/>
<rect x="1266" y="610" width="3" height="45" fill="#ff0000"/>
<rect x="1275" y="613" width="1" height="43" fill="#000"/>
<rect x="1273" y="628" width="5" height="26" fill="#000"/>
<rect x="1274" y="629" width="3" height="24" fill="#006b00"/>
<rect x="1283" y="607" width="1" height="28" fill="#000"/>
<rect x="1281" y="623" width="5" height="8" fill="#000"/>
<rect x="1282" y="624" width="3" height="6" fill="#006b00"/>
<rect x="1291" y="606" width="1" height="27" fill="#000"/>
<rect x="1289" y="625" width="5" height="6" fill="#000"/>
<rect x="1290" y="626" width="3" height="4" fill="#ff0000"/>
<rect x="1299" y="625" width="1" height="42" fill="#000"/>
<rect x="1297" y="638" width="5" height="6" fill="#000"/>
<rect x="1298" y="639" width="3" height="4" fill="#ff0000"/>
<rect x="1307" y="609" width="1" height="67" fill="#000"/>
<rect x="1305" y="613" width="5" height="30" fill="#000"/>
<rect x="1306" y="614" width="3" height="28" fill="#006b00"/>
<rect x="1315" y="599" width="1" height="62" fill="#000"/>
<rect x="1313" y="614" width="5" height="42" fill="#000"/>
<rect x="1314" y="615" width="3" height="40" fill="#ff0000"/>
<rect x="1323" y="649" width="1" height="43" fill="#000"/>
<rect x="1321" y="656" width="5" height="16" fill="#000"/>
<rect x="1322" y="657" width="3" height="14" fill="#ff0000"/>
<rect x="1331" y="604" width="1" height="80" fill="#000"/>
<rect x="1329" y="611" width="5" height="62" fill="#000"/>
<rect x="1330" y="612" width="3" height="60" fill="#006b00"/>
<rect x="1339" y="569" width="1" height="66" fill="#000"/>
<rect x="1337" y="599" width="5" height="16" fill="#000"/>
<rect x="1338" y="600" width="3" height="14" fill="#006b00"/>
<rect x="1347" y="564" width="1" height="42" fill="#000"/>
<rect x="1345" y="567" width="5" height="25" fill="#000"/>
<rect x="1346" y="568" width="3" height="23" fill="#006b00"/>
<rect x="1355" y="519" width="1" height="60" fill="#000"/>
<rect x="1353" y="530" width="5" height="40" fill="#000"/>
<rect x="1354" y="531" width="3" height="38" fill="#006b00"/>
<rect x="1363" y="488" width="1" height="98" fill="#000"/>
<rect x="1361" y="526" width="5" height="6" fill="#000"/>
<rect x="1362" y="527" width="3" height="4" fill="#006b00"/>
<rect x="1371" y="525" width="1" height="71" fill="#000"/>
<rect x="1369" y="529" width="5" height="55" fill="#000"/>
<rect x="1370" y="530" width="3" height="53" fill="#ff0000"/>
<rect x="1379" y="556" width="1" height="39" fill="#000"/>
<rect x="1377" y="582" width="5" height="3" fill="#000"/>
<rect x="1378" y="583" width="3" height="1" fill="#006b00"/>
<rect x="1387" y="569" width="1" height="30" fill="#000"/>
<rect x="1385" y="576" width="5" height="22" fill="#000"/>
<rect x="1386" y="577" width="3" height="20" fill="#006b00"/>
<rect x="1395" y="542" width="1" height="57" fill="#000"/>
<rect x="1393" y="573" width="5" height="4" fill="#000"/>
<rect x="1394" y="574" width="3" height="2" fill="#006b00"/>
<rect x="1403" y="530" width="1" height="45" fill="#000"/>
<rect x="1401" y="537" width="5" height="35" fill="#000"/>
<rect x="1402" y="538" width="3" height="33" fill="#006b00"/>
<rect x="1411" y="534" width="1" height="57" fill="#000"/>
<rect x="1409" y="539" width="5" height="31" fill="#000"/>
<rect x="1410" y="540" width="3" height="29" fill="#ff0000"/>
<rect x="1419" y="517" width="1" height="58" fill="#000"/>
<rect x="1417" y="519" width="5" height="51" fill="#000"/>
<rect x="1418" y="520" width="3" height="49" fill="#006b00"/>
<rect x="1427" y="507" width="1" height="29" fill="#000"/>
<rect x="1425" y="526" width="5" height="8" fill="#000"/>
<rect x="1426" y="527" width="3" height="6" fill="#ff0000"/>
<rect x="1435" y="480" width="1" height="76" fill="#000"/>
<rect x="1433" y="481" width="5" height="54" fill="#000"/>
<rect x="1434" y="482" width="3" height="52" fill="#006b00"/>
<rect x="1443" y="451" width="1" height="46" fill="#000"/>
<rect x="1441" y="453" width="5" height="29" fill="#000"/>
<rect x="1442" y="454" width="3" height="27" fill="#006b00"/>
<rect x="1451" y="362" width="1" height="99" fill="#000"/>
<rect x="1449" y="394" width="5" height="59" fill="#000"/>
<rect x="1450" y="395" width="3" height="57" fill="#006b00"/>
<rect x="1459" y="373" width="1" height="79" fill="#000"/>
<rect x="1457" y="387" width="5" height="6" fill="#000"/>
<rect x="1458" y="388" width="3" height="4" fill="#006b00"/>
<rect x="1467" y="421" width="1" height="100" fill="#000"/>
<rect x="1465" y="421" width="5" height="72" fill="#000"/>
<rect x="1466" y="422" width="3" height="70" fill="#ff0000"/>
<rect x="1475" y="434" width="1" height="95" fill="#000"/>
<rect x="1473" y="443" width="5" height="53" fill="#000"/>
<rect x="1474" y="444" width="3" height="51" fill="#006b00"/>
<rect x="1483" y="394" width="1" height="82" fill="#000"/>
<rect x="1481" y="424" width="5" height="25" fill="#000"/>
<rect x="1482" y="425" width="3" height="23" fill="#006b00"/>
<rect x="1491" y="419" width="1" height="63" fill="#000"/>
<rect x="1489" y="423" width="5" height="43" fill="#000"/>
<rect x="1490" y="424" width="3" height="41" fill="#ff0000"/>
<rect x="1499" y="420" width="1" height="73" fill="#000"/>
<rect x="1497" y="452" width="5" height="13" fill="#000"/>
<rect x="1498" y="453" width="3" height="11" fill="#006b00"/>
<rect x="1507" y="411" width="1" height="71" fill="#000"/>
<rect x="1505" y="424" width="5" height="48" fill="#000"/>
<rect x="1506" y="425" width="3" height="46" fill="#006b00"/>
<rect x="1515" y="416" width="1" height="32" fill="#000"/>
<rect x="1513" y="423" width="5" height="9" fill="#000"/>
<rect x="1514" y="424" width="3" height="7" fill="#ff0000"/>
<rect x="1523" y="380" width="1" height="53" fill="#000"/>
<rect x="1521" y="409" width="5" height="24" fill="#000"/>
<rect x="1522" y="410" width="3" height="22" fill="#006b00"/>
<rect x="1531" y="403" width="1" height="85" fill="#000"/>
<rect x="1529" y="410" width="5" height="62" fill="#000"/>
<rect x="1530" y="411" width="3" height="60" fill="#ff0000"/>
<rect x="1539" y="460" width="1" height="35" fill="#000"/>
<rect x="1537" y="469" width="5" height="5" fill="#000"/>
<rect x="1538" y="470" width="3" height="3" fill="#ff0000"/>
<rect x="1547" y="441" width="1" height="43" fill="#000"/>
<rect x="1545" y="446" width="5" height="20" fill="#000"/>
<rect x="1546" y="447" width="3" height="18" fill="#006b00"/>
<rect x="1555" y="434" width="1" height="69" fill="#000"/>
<rect x="1553" y="446" width="5" height="43" fill="#000"/>
<rect x="1554" y="447" width="3" height="41" fill="#ff0000"/>
<rect x="1563" y="388" width="1" height="107" fill="#000"/>
<rect x="1561" y="404" width="5" height="86" fill="#000"/>
<rect x="1562" y="405" width="3" height="84" fill="#006b00"/>
<rect x="1571" y="345" width="1" height="66" fill="#000"/>
<rect x="1569" y="350" width="5" height="57" fill="#000"/>
<rect x="1570" y="351" width="3" height="55" fill="#006b00"/>
<rect x="1579" y="338" width="1" height="25" fill="#000"/>
<rect x="1577" y="340" width="5" height="14" fill="#000"/>
<rect x="1578" y="341" width="3" height="12" fill="#006b00"/>
</g>
<line x1="205.5" y1="50.6" x2="964" y2="517.7" stroke="#000" stroke-width="3.4" stroke-linecap="butt" shape-rendering="crispEdges"/>
<line x1="915.5" y1="482.8" x2="1356" y2="609.8" stroke="#000" stroke-width="3.4" stroke-linecap="butt" shape-rendering="crispEdges"/>
<line x1="1331.3" y1="684.6" x2="1572.4" y2="327" stroke="#000" stroke-width="3.4" stroke-linecap="butt" shape-rendering="crispEdges"/>
<polyline points="3.5,800.4 11.5,800.4 19.5,804.4 27.5,807.4 35.5,802.6 43.5,803.6 51.5,806.4 59.5,802.9 67.5,807.4 75.5,809.4 83.5,797.1 91.5,795.3 99.5,799.1 107.5,797.1 115.5,790.1 123.5,788.3 131.5,792.1 139.5,780.6 147.5,779.3 155.5,769.3 163.5,778.3 171.5,770.0 179.5,774.3 187.5,773.3 195.5,773.3 203.5,800.9 211.5,807.4 219.5,807.4 227.5,807.4 235.5,807.4 243.5,808.6 251.5,806.6 259.5,799.3 267.5,800.4 275.5,803.4 283.5,798.6 291.5,797.1 299.5,797.1 307.5,802.9 315.5,796.6 323.5,804.1 331.5,805.4 339.5,805.1 347.5,801.4 355.5,803.4 363.5,804.4 371.5,806.4 379.5,806.4 387.5,802.4 395.5,808.4 403.5,797.6 411.5,788.8 419.5,785.6 427.5,790.8 435.5,802.1 443.5,806.4 451.5,810.4 459.5,814.6 467.5,816.6 475.5,817.4 483.5,814.4 491.5,817.6 499.5,819.4 507.5,812.1 515.5,816.4 523.5,814.4 531.5,817.4 539.5,811.4 547.5,807.6 555.5,806.4 563.5,800.4 571.5,808.6 579.5,805.6 587.5,802.6 595.5,804.1 603.5,800.1 611.5,795.3 619.5,806.4 627.5,808.4 635.5,815.6 643.5,812.1 651.5,809.4 659.5,803.4 667.5,811.4 675.5,809.4 683.5,805.6 691.5,798.1 699.5,801.4 707.5,803.4 715.5,809.4 723.5,809.4 731.5,801.4 739.5,794.3 747.5,792.1 755.5,793.3 763.5,806.4 771.5,810.1 779.5,813.6 787.5,818.1 795.5,818.1 803.5,810.9 811.5,809.1 819.5,808.1 827.5,811.9 835.5,826.4 843.5,818.1 851.5,822.4 859.5,821.4 867.5,826.2 875.5,824.1 883.5,825.2 891.5,820.6 899.5,808.4 907.5,796.3 915.5,798.3 923.5,797.3 931.5,805.4 939.5,804.1 947.5,804.1 955.5,801.4 963.5,800.4 971.5,804.4 979.5,808.4 987.5,809.4 995.5,807.4 1003.5,805.4 1011.5,797.1 1019.5,813.6 1027.5,812.6 1035.5,804.4 1043.5,804.1 1051.5,799.3 1059.5,806.4 1067.5,810.4 1075.5,814.4 1083.5,808.4 1091.5,812.4 1099.5,809.4 1107.5,805.4 1115.5,802.4 1123.5,803.4 1131.5,809.4 1139.5,805.4 1147.5,801.4 1155.5,798.1 1163.5,807.4 1171.5,809.4 1179.5,805.4 1187.5,812.4 1195.5,814.4 1203.5,818.4 1211.5,826.2 1219.5,813.1 1227.5,817.1 1235.5,812.6 1243.5,803.4 1251.5,800.4 1259.5,801.4 1267.5,809.4 1275.5,804.4 1283.5,803.1 1291.5,804.4 1299.5,807.4 1307.5,800.4 1315.5,809.1 1323.5,812.4 1331.5,799.1 1339.5,797.1 1347.5,792.3 1355.5,786.6 1363.5,786.3 1371.5,798.3 1379.5,798.3 1387.5,797.3 1395.5,796.3 1403.5,790.3 1411.5,797.1 1419.5,789.3 1427.5,792.3 1435.5,784.3 1443.5,781.1 1451.5,775.3 1459.5,774.3 1467.5,795.3 1475.5,789.3 1483.5,787.3 1491.5,794.3 1499.5,792.3 1507.5,789.3 1515.5,790.3 1523.5,787.3 1531.5,798.1 1539.5,799.3 1547.5,795.3 1555.5,802.4 1563.5,790.3 1571.5,785.6 1579.5,784.1" fill="none" stroke="#000" stroke-width="1" stroke-linejoin="round" shape-rendering="crispEdges"/>
<g shape-rendering="crispEdges" fill="#000">
<rect x="2" y="2" width="1875" height="1"/>
<rect x="2" y="2" width="1" height="733"/>
<rect x="2" y="734" width="1875" height="1"/>
<rect x="2" y="736" width="1875" height="1"/>
<rect x="2" y="736" width="1" height="132"/>
<rect x="2" y="867" width="1875" height="1"/>
<rect x="1876" y="2" width="1" height="866"/>
<rect x="1877" y="22" width="2" height="1"/>
<rect x="1877" y="56" width="2" height="1"/>
<rect x="1877" y="90" width="2" height="1"/>
<rect x="1877" y="123" width="2" height="1"/>
<rect x="1877" y="157" width="2" height="1"/>
<rect x="1877" y="191" width="2" height="1"/>
<rect x="1877" y="224" width="2" height="1"/>
<rect x="1877" y="258" width="2" height="1"/>
<rect x="1877" y="292" width="2" height="1"/>
<rect x="1877" y="325" width="2" height="1"/>
<rect x="1877" y="359" width="2" height="1"/>
<rect x="1877" y="393" width="2" height="1"/>
<rect x="1877" y="426" width="2" height="1"/>
<rect x="1877" y="460" width="2" height="1"/>
<rect x="1877" y="494" width="2" height="1"/>
<rect x="1877" y="528" width="2" height="1"/>
<rect x="1877" y="595" width="2" height="1"/>
<rect x="1877" y="629" width="2" height="1"/>
<rect x="1877" y="662" width="2" height="1"/>
<rect x="1877" y="696" width="2" height="1"/>
<rect x="1877" y="730" width="2" height="1"/>
<rect x="1877" y="738" width="2" height="1"/>
<rect x="1877" y="866" width="1" height="1"/>
<rect x="1876" y="776" width="1" height="1" fill="#fff"/>
<rect x="1876" y="802" width="1" height="1" fill="#fff"/>
<rect x="1876" y="828" width="1" height="1" fill="#fff"/>
<rect x="3" y="868" width="1" height="3"/>
<rect x="67" y="868" width="1" height="3"/>
<rect x="131" y="868" width="1" height="3"/>
<rect x="195" y="868" width="1" height="3"/>
<rect x="259" y="868" width="1" height="3"/>
<rect x="323" y="868" width="1" height="3"/>
<rect x="387" y="868" width="1" height="3"/>
<rect x="451" y="868" width="1" height="3"/>
<rect x="515" y="868" width="1" height="3"/>
<rect x="579" y="868" width="1" height="3"/>
<rect x="643" y="868" width="1" height="3"/>
<rect x="707" y="868" width="1" height="3"/>
<rect x="771" y="868" width="1" height="3"/>
<rect x="835" y="868" width="1" height="3"/>
<rect x="899" y="868" width="1" height="3"/>
<rect x="963" y="868" width="1" height="3"/>
<rect x="1027" y="868" width="1" height="3"/>
<rect x="1091" y="868" width="1" height="3"/>
<rect x="1155" y="868" width="1" height="3"/>
<rect x="1219" y="868" width="1" height="3"/>
<rect x="1283" y="868" width="1" height="3"/>
<rect x="1347" y="868" width="1" height="3"/>
<rect x="1411" y="868" width="1" height="3"/>
<rect x="1475" y="868" width="1" height="3"/>
<rect x="1539" y="868" width="1" height="3"/>
</g>
<text class="s" x="1882" y="26.1" textLength="23" lengthAdjust="spacingAndGlyphs">77.20</text>
<text class="s" x="1882" y="60.1" textLength="23" lengthAdjust="spacingAndGlyphs">76.10</text>
<text class="s" x="1882" y="94.1" textLength="23" lengthAdjust="spacingAndGlyphs">75.00</text>
<text class="s" x="1882" y="127.1" textLength="23" lengthAdjust="spacingAndGlyphs">73.95</text>
<text class="s" x="1882" y="161.1" textLength="23" lengthAdjust="spacingAndGlyphs">72.85</text>
<text class="s" x="1882" y="195.1" textLength="23" lengthAdjust="spacingAndGlyphs">71.75</text>
<text class="s" x="1882" y="228.1" textLength="23" lengthAdjust="spacingAndGlyphs">70.70</text>
<text class="s" x="1882" y="262.1" textLength="23" lengthAdjust="spacingAndGlyphs">69.60</text>
<text class="s" x="1882" y="296.1" textLength="23" lengthAdjust="spacingAndGlyphs">68.50</text>
<text class="s" x="1882" y="329.1" textLength="23" lengthAdjust="spacingAndGlyphs">67.45</text>
<text class="s" x="1882" y="363.1" textLength="23" lengthAdjust="spacingAndGlyphs">66.35</text>
<text class="s" x="1882" y="397.1" textLength="23" lengthAdjust="spacingAndGlyphs">65.25</text>
<text class="s" x="1882" y="430.1" textLength="23" lengthAdjust="spacingAndGlyphs">64.20</text>
<text class="s" x="1882" y="464.1" textLength="23" lengthAdjust="spacingAndGlyphs">63.10</text>
<text class="s" x="1882" y="498.1" textLength="23" lengthAdjust="spacingAndGlyphs">62.00</text>
<text class="s" x="1882" y="532.1" textLength="23" lengthAdjust="spacingAndGlyphs">60.90</text>
<text class="s" x="1882" y="599.1" textLength="23" lengthAdjust="spacingAndGlyphs">58.75</text>
<text class="s" x="1882" y="633.1" textLength="23" lengthAdjust="spacingAndGlyphs">57.65</text>
<text class="s" x="1882" y="666.1" textLength="23" lengthAdjust="spacingAndGlyphs">56.60</text>
<text class="s" x="1882" y="700.1" textLength="23" lengthAdjust="spacingAndGlyphs">55.50</text>
<text class="s" x="1882" y="734.1" textLength="23" lengthAdjust="spacingAndGlyphs">54.40</text>
<text class="s" x="1880" y="747.5" textLength="14.7" lengthAdjust="spacingAndGlyphs">100</text>
<text class="s" x="1879" y="780.5" textLength="9.7" lengthAdjust="spacingAndGlyphs">70</text>
<text class="s" x="1879" y="806.5" textLength="9.7" lengthAdjust="spacingAndGlyphs">50</text>
<text class="s" x="1879" y="832.5" textLength="9.7" lengthAdjust="spacingAndGlyphs">30</text>
<text class="s" x="1880" y="864.5" textLength="4.7" lengthAdjust="spacingAndGlyphs">0</text>
<g shape-rendering="crispEdges">
<rect x="1878" y="35" width="31" height="11" fill="#ff0000"/>
<rect x="1878" y="136" width="31" height="11" fill="#ff0000"/>
<rect x="1878" y="240" width="31" height="11" fill="#ff0000"/>
<rect x="1878" y="358" width="31" height="11" fill="#006400"/>
<rect x="1878" y="495" width="31" height="11" fill="#006400"/>
<rect x="1878" y="557" width="31" height="11" fill="#006400"/>
<rect x="1878" y="675" width="31" height="11" fill="#006400"/>
<rect x="1878" y="335" width="31" height="11" fill="#000"/>
</g>
<text class="w" x="1882" y="44.1" textLength="23" lengthAdjust="spacingAndGlyphs">76.60</text>
<text class="w" x="1882" y="145.1" textLength="23" lengthAdjust="spacingAndGlyphs">73.35</text>
<text class="w" x="1882" y="249.1" textLength="23" lengthAdjust="spacingAndGlyphs">70.00</text>
<text class="w" x="1882" y="367.1" textLength="23" lengthAdjust="spacingAndGlyphs">66.20</text>
<text class="w" x="1882" y="504.1" textLength="23" lengthAdjust="spacingAndGlyphs">61.80</text>
<text class="w" x="1882" y="566.1" textLength="23" lengthAdjust="spacingAndGlyphs">59.80</text>
<text class="w" x="1882" y="684.1" textLength="23" lengthAdjust="spacingAndGlyphs">56.00</text>
<text class="w" x="1882" y="344.1" textLength="23" lengthAdjust="spacingAndGlyphs">66.96</text>
<text class="s" x="3" y="880" textLength="52.5" lengthAdjust="spacingAndGlyphs">19 May 2025</text>
<text class="s" x="67" y="880" textLength="52.5" lengthAdjust="spacingAndGlyphs">29 May 2025</text>
<text class="s" x="131" y="880" textLength="49.5" lengthAdjust="spacingAndGlyphs">10 Jun 2025</text>
<text class="s" x="195" y="880" textLength="49.5" lengthAdjust="spacingAndGlyphs">20 Jun 2025</text>
<text class="s" x="259" y="880" textLength="41.5" lengthAdjust="spacingAndGlyphs">2 Jul 2025</text>
<text class="s" x="323" y="880" textLength="46.5" lengthAdjust="spacingAndGlyphs">14 Jul 2025</text>
<text class="s" x="387" y="880" textLength="46.5" lengthAdjust="spacingAndGlyphs">24 Jul 2025</text>
<text class="s" x="451" y="880" textLength="46.5" lengthAdjust="spacingAndGlyphs">5 Aug 2025</text>
<text class="s" x="515" y="880" textLength="51.5" lengthAdjust="spacingAndGlyphs">15 Aug 2025</text>
<text class="s" x="579" y="880" textLength="51.5" lengthAdjust="spacingAndGlyphs">27 Aug 2025</text>
<text class="s" x="643" y="880" textLength="45.5" lengthAdjust="spacingAndGlyphs">8 Sep 2025</text>
<text class="s" x="707" y="880" textLength="50.5" lengthAdjust="spacingAndGlyphs">18 Sep 2025</text>
<text class="s" x="771" y="880" textLength="50.5" lengthAdjust="spacingAndGlyphs">30 Sep 2025</text>
<text class="s" x="835" y="880" textLength="49.5" lengthAdjust="spacingAndGlyphs">10 Oct 2025</text>
<text class="s" x="899" y="880" textLength="49.5" lengthAdjust="spacingAndGlyphs">22 Oct 2025</text>
<text class="s" x="963" y="880" textLength="46.5" lengthAdjust="spacingAndGlyphs">3 Nov 2025</text>
<text class="s" x="1027" y="880" textLength="51.5" lengthAdjust="spacingAndGlyphs">13 Nov 2025</text>
<text class="s" x="1091" y="880" textLength="51.5" lengthAdjust="spacingAndGlyphs">25 Nov 2025</text>
<text class="s" x="1155" y="880" textLength="45.5" lengthAdjust="spacingAndGlyphs">5 Dec 2025</text>
<text class="s" x="1219" y="880" textLength="50.5" lengthAdjust="spacingAndGlyphs">17 Dec 2025</text>
<text class="s" x="1283" y="880" textLength="50.5" lengthAdjust="spacingAndGlyphs">30 Dec 2025</text>
<text class="s" x="1347" y="880" textLength="49.5" lengthAdjust="spacingAndGlyphs">12 Jan 2026</text>
<text class="s" x="1411" y="880" textLength="49.5" lengthAdjust="spacingAndGlyphs">22 Jan 2026</text>
<text class="s" x="1475" y="880" textLength="45.5" lengthAdjust="spacingAndGlyphs">3 Feb 2026</text>
<text class="s" x="1539" y="880" textLength="50.5" lengthAdjust="spacingAndGlyphs">13 Feb 2026</text>
<path d="M6 9h7l-3.5 4z" fill="#000"/>
<text class="s" x="18" y="14" textLength="63" lengthAdjust="spacingAndGlyphs">WTICash,Daily</text>
<text class="s" x="88" y="14" textLength="100.5" lengthAdjust="spacingAndGlyphs">66.56 66.99 66.28 66.96</text>
<text class="s" x="7" y="749" textLength="68" lengthAdjust="spacingAndGlyphs">RSI(14) 64.0799</text>
<text class="b" x="1873.3" y="32" text-anchor="end" textLength="128" lengthAdjust="spacingAndGlyphs" fill="#ff0000">R3 - 76.60</text>
<text class="b" x="1873.3" y="133.5" text-anchor="end" textLength="128" lengthAdjust="spacingAndGlyphs" fill="#ff0000">R2 - 73.35</text>
<text class="b" x="1873.3" y="238" text-anchor="end" textLength="128" lengthAdjust="spacingAndGlyphs" fill="#ff0000">R1 - 70.00</text>
<text class="b" x="1873.3" y="392" text-anchor="end" textLength="127" lengthAdjust="spacingAndGlyphs" fill="#006400">S1 - 66.20</text>
<text class="b" x="1873.3" y="529" text-anchor="end" textLength="127" lengthAdjust="spacingAndGlyphs" fill="#006400">S2 - 61.80</text>
<text class="b" x="1873.3" y="593" text-anchor="end" textLength="127" lengthAdjust="spacingAndGlyphs" fill="#006400">S3 - 59.80</text>
</svg></body></html>
